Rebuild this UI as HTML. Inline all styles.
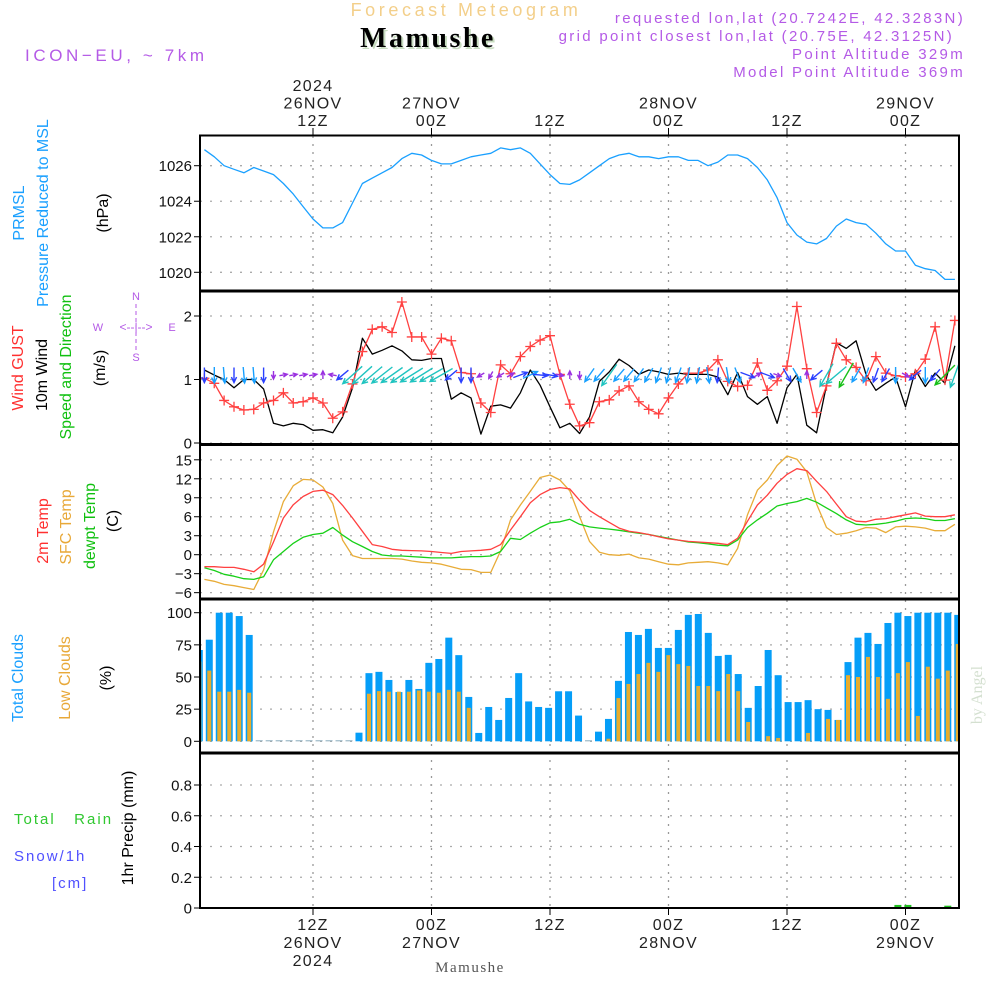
<!DOCTYPE html>
<html><head><meta charset="utf-8"><title>Forecast Meteogram - Mamushe</title>
<style>
html,body{margin:0;padding:0;background:#fff;}
svg{display:block;font-family:"Liberation Sans",sans-serif;}
</style></head>
<body>
<svg id="chart" width="1000" height="1000" viewBox="0 0 1000 1000" xmlns="http://www.w3.org/2000/svg">
<defs>
<clipPath id="cp1"><rect x="200" y="136" width="759" height="154"/></clipPath>
<clipPath id="cp2"><rect x="200" y="292" width="759" height="152"/></clipPath>
<clipPath id="cp3"><rect x="200" y="446" width="759" height="152"/></clipPath>
<clipPath id="cp4"><rect x="200" y="600" width="759" height="152"/></clipPath>
<clipPath id="cp5"><rect x="200" y="754" width="759" height="153"/></clipPath>
</defs>
<!-- header -->
<text x="466" y="16" text-anchor="middle" font-size="18" fill="#f3cf8a" letter-spacing="3.6">Forecast Meteogram</text>
<text x="430" y="49" text-anchor="middle" font-size="28" font-weight="bold" font-family="Liberation Serif, serif" fill="#c8dcc0" letter-spacing="2.5">Mamushe</text>
<text x="428" y="47" text-anchor="middle" font-size="28" font-weight="bold" font-family="Liberation Serif, serif" fill="#000" letter-spacing="2.5">Mamushe</text>
<text x="25" y="61" font-size="17" fill="#b45ae6" letter-spacing="3.6">ICON−EU, ~ 7km</text>
<g font-size="15" fill="#b45ae6" text-anchor="end" letter-spacing="2.3">
<text x="965" y="23">requested lon,lat (20.7242E, 42.3283N)</text>
<text x="954" y="41">grid point closest lon,lat (20.75E, 42.3125N)</text>
<text x="965" y="59">Point Altitude 329m</text>
<text x="965" y="77">Model Point Altitude 369m</text>
</g>
<!-- left labels -->
<g font-size="16" text-anchor="middle">
<text transform="translate(24,213) rotate(-90)" fill="#1aa0ff">PRMSL</text>
<text transform="translate(48,213) rotate(-90)" fill="#1aa0ff">Pressure Reduced to MSL</text>
<text transform="translate(108,213) rotate(-90)" fill="#000">(hPa)</text>
<text transform="translate(23,368) rotate(-90)" fill="#ff3030">Wind GUST</text>
<text transform="translate(47,375) rotate(-90)" fill="#000">10m Wind</text>
<text transform="translate(71,367) rotate(-90)" fill="#10c010">Speed and Direction</text>
<text transform="translate(105,368) rotate(-90)" fill="#000">(m/s)</text>
<text transform="translate(48,531) rotate(-90)" fill="#ff3030">2m Temp</text>
<text transform="translate(71,527) rotate(-90)" fill="#e8a838">SFC Temp</text>
<text transform="translate(95,526) rotate(-90)" fill="#10c010">dewpt Temp</text>
<text transform="translate(118,521) rotate(-90)" fill="#000">(C)</text>
<text transform="translate(23,678) rotate(-90)" fill="#1aa0ff">Total Clouds</text>
<text transform="translate(70,678) rotate(-90)" fill="#e8a838">Low Clouds</text>
<text transform="translate(111,678) rotate(-90)" fill="#000">(%)</text>
<text transform="translate(133,828) rotate(-90)" fill="#000">1hr Precip (mm)</text>
</g>
<text x="14" y="824" font-size="15" fill="#30c830" letter-spacing="2" xml:space="preserve">Total   Rain</text>
<text x="14" y="861" font-size="15" fill="#5050ff" letter-spacing="2">Snow/1h</text>
<text x="52" y="888" font-size="15" fill="#5050ff" letter-spacing="2">[cm]</text>
<g fill="#b45ae6" font-size="11" text-anchor="middle">
<text x="136" y="300">N</text><text x="98" y="331">W</text><text x="172" y="331">E</text><text x="136" y="361">S</text>
<text x="136" y="331" font-size="12">&lt;--|--&gt;</text>
<line x1="136" y1="304" x2="136" y2="350" stroke="#b45ae6" stroke-width="1" stroke-dasharray="4,3"/>
</g>
<text transform="translate(982,695) rotate(-90)" font-size="16" text-anchor="middle" font-family="Liberation Serif, serif" fill="#d4e0d0">by Angel</text>
<text x="470" y="972" text-anchor="middle" font-size="15" font-family="Liberation Serif, serif" fill="#555" letter-spacing="1.5">Mamushe</text>
<g id="grid"></g>
<g id="plots"></g>
<g id="frame"></g>
<g id="axes"></g>
</svg>
<script>
const hours = [];
for (let i = 1; i <= 77; i++) hours.push(i);
const pressure = [1026.9,1026.5,1026.0,1025.8,1025.6,1025.9,1025.7,1025.5,1025.0,1024.4,1023.7,1023.0,1022.5,1022.5,1022.8,1023.9,1025.0,1025.3,1025.6,1025.9,1026.4,1026.7,1026.6,1026.3,1026.1,1026.1,1026.3,1026.5,1026.6,1026.7,1027.0,1026.9,1027.0,1026.7,1026.1,1025.5,1025.0,1024.95,1025.2,1025.6,1026.0,1026.4,1026.6,1026.7,1026.5,1026.5,1026.4,1026.5,1026.5,1026.3,1026.3,1026.0,1026.2,1026.6,1026.6,1026.4,1025.9,1025.2,1024.2,1022.8,1022.1,1021.7,1021.6,1021.9,1022.6,1023.0,1022.8,1022.7,1022.2,1021.6,1021.2,1021.2,1020.4,1020.2,1020.1,1019.6,1019.6];
const windSpeed = [1.15,1.07,1.0,0.87,1.0,1.0,0.85,0.31,0.27,0.31,0.29,0.2,0.21,0.16,0.41,0.87,1.65,1.4,1.46,1.53,1.45,1.31,1.3,1.33,1.33,0.69,0.79,0.71,0.14,0.58,0.6,0.55,0.79,1.15,0.91,0.57,0.24,0.31,0.15,0.41,0.97,1.12,1.32,1.22,1.08,1.15,1.12,1.08,1.1,1.08,1.08,1.08,1.04,0.76,1.11,0.73,0.61,0.73,0.31,0.87,1.08,0.28,0.16,0.91,1.58,1.49,1.61,1.08,0.83,0.94,1.04,0.57,1.15,0.89,1.1,0.94,1.53];
const windGust = [1.02,0.94,0.67,0.57,0.52,0.53,0.63,0.67,0.79,0.63,0.65,0.71,0.63,0.39,0.49,0.93,1.44,1.79,1.83,1.74,2.22,1.67,1.67,1.4,1.65,1.61,1.11,1.09,0.63,0.48,1.23,1.09,1.36,1.52,1.62,1.69,1.08,0.61,0.27,0.32,0.65,0.68,0.82,0.9,0.65,0.53,0.46,0.71,0.93,1.1,1.1,1.15,1.31,0.97,0.89,0.91,1.26,0.83,0.98,1.21,2.15,1.17,0.48,0.9,1.57,1.31,1.19,0.98,1.36,1.1,1.06,1.04,1.09,1.32,1.83,0.99,1.93];
const windDirTo = [180,180,175,180,175,175,180,180,80,80,80,80,0,280,230,228,228,230,232,235,235,238,238,240,240,230,180,180,240,210,240,60,70,65,95,100,100,0,180,215,220,215,220,220,215,210,200,195,200,190,190,170,185,170,160,110,60,110,110,150,150,0,230,210,230,210,210,200,200,210,180,120,230,180,220,225,200];
const windColorCode = ["b","s","s","b","s","s","b","p","p","p","p","p","p","p","b","t","t","t","t","t","t","t","t","t","t","b","b","b","p","p","p","p","b","s","b","b","p","p","p","s","s","t","s","s","s","s","s","s","s","s","s","s","b","s","s","b","p","b","p","b","s","p","b","t","t","g","s","s","b","b","s","p","b","s","b","g","t"];
const temp2m = [-1.9,-1.9,-2.0,-2.0,-2.3,-2.7,-1.5,2.0,5.8,7.9,9.2,10.0,10.2,9.5,7.8,5.8,3.7,1.6,1.3,0.85,0.7,0.65,0.6,0.5,0.35,0.2,0.5,0.6,0.7,0.85,1.6,3.9,6.0,8.2,9.5,10.3,10.6,10.4,8.6,7.0,6.0,5.1,4.2,3.7,3.5,3.2,2.85,2.5,2.3,2.1,2.0,1.9,1.8,1.6,2.6,5.3,7.85,9.4,11.3,12.7,13.6,13.3,11.6,10.0,8.0,6.0,5.3,5.2,5.6,5.7,6.0,6.3,6.6,6.1,6.0,6.0,6.3];
const tempSfc = [-3.9,-4.2,-4.7,-4.9,-5.2,-5.5,-2.4,3.6,8.4,10.9,11.9,11.8,10.7,8.1,2.3,-0.15,-0.6,-0.6,-0.6,-0.6,-0.7,-1.0,-1.2,-1.3,-1.5,-1.9,-2.3,-2.35,-2.8,-2.8,0.6,5.5,7.85,10.0,12.2,12.6,11.8,10.1,6.0,2.1,0.4,0.0,-0.1,0.1,-0.5,-0.7,-1.1,-1.5,-1.6,-1.3,-1.2,-1.1,-1.3,-1.6,1.0,6.3,10.2,11.8,14.1,15.6,15.1,13.1,8.0,4.3,3.2,3.4,3.8,4.3,4.2,3.5,4.4,4.5,4.4,4.2,3.8,3.8,4.8];
const dewpt = [-2.05,-2.5,-3.1,-3.4,-3.8,-3.9,-3.5,-0.8,0.5,1.8,2.75,3.2,3.4,4.3,3.1,2.05,1.3,0.5,-0.05,-0.2,-0.2,-0.3,-0.4,-0.5,-0.5,-0.5,-0.4,-0.3,-0.3,-0.2,0.5,2.6,2.4,3.4,4.3,5.05,5.2,5.6,4.8,4.4,4.2,4.05,3.85,3.6,3.4,3.2,2.9,2.6,2.3,2.0,1.9,1.7,1.5,1.4,2.3,4.3,5.5,6.55,7.7,8.1,8.4,8.9,8.3,7.4,6.5,5.5,4.8,4.7,4.8,5.0,5.3,5.7,5.8,5.7,5.4,5.4,5.7];
const totalClouds = [71,79,100,100,97.4,82.7,0,0,0,0,0,0,0,0,0,0,6.7,53,54,47.7,38.3,47.7,40.7,61,64,80.6,67,34.5,6.5,26.7,16.6,33.7,53,31,26.7,26,38.9,38.9,20,0,7.5,17.4,47,85,82.7,87.4,72.6,72.6,86.6,98.3,99,84.3,66.4,67.2,52.3,26,43,71,51.4,30.5,30.5,32,25,24.4,16.6,61.6,80.6,84.3,75.7,92,100,97.4,100,100,100,100,98.3];
const lowClouds = [62,55,38.6,38.6,40,37.8,0,0,0,0,0,0,0,0,0,0,0,37,39,38.6,38.6,38.6,39.5,38.6,37.8,40,38.6,26,0,0,0,0,0,0,0,0,0,0,0,0,0,2,33.6,44.6,52.3,61,54,67,60,58.6,43,43,39,52.3,39,15,0,4,2.6,0,0,6.5,0,17.4,16.6,51.4,50,65.6,50,33,53,61.6,19.7,58,48.7,55,75.7];
const precip = [0,0,0,0,0,0,0,0,0,0,0,0,0,0,0,0,0,0,0,0,0,0,0,0,0,0,0,0,0,0,0,0,0,0,0,0,0,0,0,0,0,0,0,0,0,0,0,0,0,0,0,0,0,0,0,0,0,0,0,0,0,0,0,0,0,0,0,0,0,0,0.02,0.02,0,0,0,0.015,0];
const timeTickHours = [12,24,36,48,60,72];
const topTickLabels = [["2024","26NOV","12Z"],["27NOV","00Z"],["12Z"],["28NOV","00Z"],["12Z"],["29NOV","00Z"]];
const bottomTickLabels = [["12Z","26NOV","2024"],["00Z","27NOV"],["12Z"],["00Z","28NOV"],["12Z"],["00Z","29NOV"]];
const pressureTicks = [1020,1022,1024,1026];
const windTicks = [0,1,2];
const tempTicks = [-6,-3,0,3,6,9,12,15];
const cloudTicks = [0,25,50,75,100];
const precipTicks = [0,0.2,0.4,0.6,0.8];

const NS = "http://www.w3.org/2000/svg";
const X0 = 200, X1 = 959;
function xs(h){ return 313 + (h - 12) * 9.875; }
function xb(h){ return 199.3 + (h - 1) * 9.98; }
function lin(d0,d1,r0,r1){ return v => r0 + (v - d0) * (r1 - r0) / (d1 - d0); }
const yP = lin(1020,1026,272.3,165.7);
const yW = lin(0,2,443,316);
const yT = lin(0,15,554.7,459.8);
const yC = lin(0,100,741.3,612.7);
const yR = lin(0,0.8,908,785);

function mk(tag, attrs, parent){
  const el = document.createElementNS(NS, tag);
  for (const k in attrs) el.setAttribute(k, attrs[k]);
  parent.appendChild(el);
  return el;
}
const grid = document.getElementById('grid');
const plots = document.getElementById('plots');
const frame = document.getElementById('frame');
const axes = document.getElementById('axes');

timeTickHours.forEach(h => {
  const l = mk('line', {x1: xs(h), x2: xs(h), y1: 136, y2: 908, stroke: '#999', 'stroke-width': 1.3, 'stroke-dasharray': '2,6'}, grid);
  
  
  const t = mk('line', {x1: xs(h), x2: xs(h), y1: 128, y2: 135, stroke: '#000', 'stroke-width': 1}, axes);
  
  
  const b = mk('line', {x1: xs(h), x2: xs(h), y1: 908, y2: 915, stroke: '#000', 'stroke-width': 1}, axes);
  
  
});
timeTickHours.forEach((h, i) => {
  const top = topTickLabels[i];
  top.forEach((s, j) => {
    const y = 127 - (top.length - 1 - j) * 17.5 - 1;
    const t = mk('text', {x: xs(h), y: y, 'text-anchor': 'middle', 'font-size': 16, fill: '#222', 'letter-spacing': 1.3}, axes);
    t.textContent = s;
    
    
  });
  bottomTickLabels[i].forEach((s, j) => {
    const t = mk('text', {x: xs(h), y: 930 + j * 18, 'text-anchor': 'middle', 'font-size': 16, fill: '#222', 'letter-spacing': 1.3}, axes);
    t.textContent = s;
    
    
  });
});
function yAxis(ticks, sc, fmt, name){
  ticks.forEach(v => {
    const y = sc(v);
    const g = mk('line', {x1: X0, x2: X1, y1: y, y2: y, stroke: '#aaa', 'stroke-width': 1.3, 'stroke-dasharray': '2,8'}, grid);
    
    
    const tk = mk('line', {x1: X0 - 6, x2: X0, y1: y, y2: y, stroke: '#000', 'stroke-width': 1}, axes);
    
    
    const t = mk('text', {x: X0 - 8, y: y + 5.5, 'text-anchor': 'end', 'font-size': 15, fill: '#111'}, axes);
    t.textContent = fmt(v);
    
    
  });
}
yAxis(pressureTicks, yP, v => String(v), 'pressure-axis');
yAxis(windTicks, yW, v => String(v), 'wind-axis');
yAxis(tempTicks, yT, v => (v < 0 ? '−' + (-v) : String(v)), 'temp-axis');
yAxis(cloudTicks, yC, v => String(v), 'cloud-axis');
yAxis(precipTicks, yR, v => (v === 0 ? '0' : v.toFixed(1)), 'precip-axis');

function line(vals, sc, color, clip, name, w){
  const pts = vals.map((v, i) => xs(hours[i]).toFixed(1) + ',' + sc(v).toFixed(1)).join(' ');
  const p = mk('polyline', {points: pts, fill: 'none', stroke: color, 'stroke-width': w || 1.3, 'clip-path': 'url(#' + clip + ')', 'stroke-linejoin': 'round'}, plots);
  
  
  return p;
}
line(pressure, yP, '#1aa0ff', 'cp1', 'pressure-line');
const cg = mk('g', {'clip-path': 'url(#cp4)'}, plots);


hours.forEach((h, i) => {
  const cx = xb(h);
  const tv = totalClouds[i], lv = lowClouds[i];
  const hb = Math.max(yC(0) - yC(tv), 1);
  const r = mk('rect', {x: cx - 3.5, y: yC(0) - hb, width: 7, height: hb, fill: tv > 0 ? '#059ef8' : '#8ab'}, cg);
  
  
  if (lv > 0) {
    const r2 = mk('rect', {x: cx - 2, y: yC(lv), width: 4, height: yC(0) - yC(lv), fill: '#e8ac2c'}, cg);
    
    
  }
});
const pg = mk('g', {'clip-path': 'url(#cp5)'}, plots);


hours.forEach((h, i) => {
  if (precip[i] > 0) {
    const cx = xb(h);
    const r = mk('rect', {x: cx - 3.5, y: yR(precip[i]), width: 7, height: yR(0) - yR(precip[i]), fill: '#20c020'}, pg);
    
    
  }
});
line(tempSfc, yT, '#e8ac38', 'cp3', 'sfc-temp-line');
line(dewpt, yT, '#18d018', 'cp3', 'dewpt-line');
line(temp2m, yT, '#ff4040', 'cp3', 'temp-2m-line');
line(windSpeed, yW, '#000', 'cp2', 'wind-speed-line');
line(windGust, yW, '#ff4040', 'cp2', 'wind-gust-line');
const gg = mk('g', {'clip-path': 'url(#cp2)', stroke: '#ff4040', 'stroke-width': 1.3}, plots);


hours.forEach((h, i) => {
  const x = xs(h), y = yW(windGust[i]);
  const m = mk('path', {d: `M${x-5},${y}H${x+5}M${x},${y-5}V${y+5}`}, gg);
  
  
});
const colMap = {p: '#9a30e0', b: '#2a40ff', s: '#18a0ff', t: '#20c4c0', g: '#18c018'};
const lenMap = {p: 8, b: 15, s: 16, t: 26, g: 28};
const ag = mk('g', {'clip-path': 'url(#cp2)'}, plots);


hours.forEach((h, i) => {
  const c = windColorCode[i];
  const L = lenMap[c];
  const a = windDirTo[i] * Math.PI / 180;
  const dx = Math.sin(a), dy = -Math.cos(a);
  const cx = xs(h), cy = 375;
  const x1 = cx - dx * L / 2, y1 = cy - dy * L / 2, x2 = cx + dx * L / 2, y2 = cy + dy * L / 2;
  const hl = Math.min(6, L * 0.6);
  const b1 = a + Math.PI - 0.45, b2 = a + Math.PI + 0.45;
  const d = `M${x1.toFixed(1)},${y1.toFixed(1)}L${x2.toFixed(1)},${y2.toFixed(1)}` +
    `M${(x2 + Math.sin(b1) * hl).toFixed(1)},${(y2 - Math.cos(b1) * hl).toFixed(1)}L${x2.toFixed(1)},${y2.toFixed(1)}L${(x2 + Math.sin(b2) * hl).toFixed(1)},${(y2 - Math.cos(b2) * hl).toFixed(1)}`;
  const p = mk('path', {d: d, fill: 'none', stroke: colMap[c], 'stroke-width': 1.4}, ag);
  
  
});
const fr = mk('rect', {x: X0, y: 135.5, width: X1 - X0, height: 908 - 135.5, fill: 'none', stroke: '#000', 'stroke-width': 2}, frame);


[291, 444.5, 599, 753].forEach(y => {
  const s = mk('line', {x1: X0, x2: X1, y1: y, y2: y, stroke: '#000', 'stroke-width': 3}, frame);
  
  
});
</script>
</body></html>
